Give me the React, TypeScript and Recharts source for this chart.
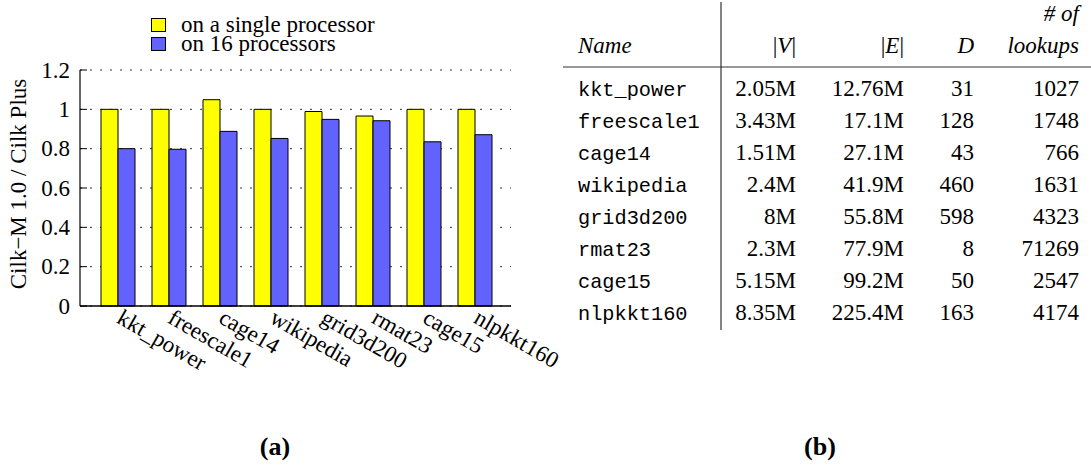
import React from "react";
import { BarChart, Bar, XAxis, YAxis, CartesianGrid, Legend } from "recharts";

// graphs, in the order they appear on the x axis
const graphs = [
  "kkt_power",
  "freescale1",
  "cage14",
  "wikipedia",
  "grid3d200",
  "rmat23",
  "cage15",
  "nlpkkt160",
];
const singleProcessor = [1.0, 1.0, 1.049, 1.0, 0.989, 0.966, 1.0, 1.0];
const sixteenProcessors = [0.8, 0.797, 0.888, 0.852, 0.949, 0.942, 0.835, 0.871];
const yTicks = [0, 0.2, 0.4, 0.6, 0.8, 1, 1.2];
const seriesOrder = ["single", "sixteen"];

// table (b)
const vertices = ["2.05M", "3.43M", "1.51M", "2.4M", "8M", "2.3M", "5.15M", "8.35M"];
const edges = ["12.76M", "17.1M", "27.1M", "41.9M", "55.8M", "77.9M", "99.2M", "225.4M"];
const diameters = ["31", "128", "43", "460", "598", "8", "50", "163"];
const lookups = ["1027", "1748", "766", "1631", "4323", "71269", "2547", "4174"];

const SERIF = "'Liberation Serif', 'Times New Roman', serif";
const MONO = "'Liberation Mono', 'Courier New', monospace";

const data = graphs.map((name, i) => ({
  name,
  single: singleProcessor[i],
  sixteen: sixteenProcessors[i],
}));

const YTick = (props: any) => {
  const { x, y, payload } = props;
  return (
    <g>
      <line x1={x + 10} x2={x + 17} y1={y} y2={y} stroke="#000" />
      <text x={x} y={y} dy="0.34em" textAnchor="end" fontSize={23} fontFamily={SERIF} fill="#000">
        {String(payload.value)}
      </text>
    </g>
  );
};

const XTick = (props: any) => {
  const { x, y, payload } = props;
  const tx = x - 2;
  const ty = y + 16;
  return (
    <text
      x={tx}
      y={ty}
      transform={`rotate(30, ${tx}, ${ty})`}
      textAnchor="start"
      fontSize={23}
      fontFamily={SERIF}
      fill="#000"
    >
      {payload.value}
    </text>
  );
};

const YLabel = (props: any) => {
  const vb = props.viewBox || { x: 0, y: 70, width: 80, height: 236 };
  const lx = vb.x + 26;
  const ly = vb.y + vb.height / 2 - 4;
  return (
    <text
      x={lx}
      y={ly}
      transform={`rotate(-90, ${lx}, ${ly})`}
      textAnchor="middle"
      fontSize={23}
      fontFamily={SERIF}
      fill="#000"
    >
      Cilk−M 1.0 / Cilk Plus
    </text>
  );
};

const LegendContent = (props: any) => {
  const items = [...(props.payload || [])].sort(
    (a: any, b: any) => seriesOrder.indexOf(a.dataKey) - seriesOrder.indexOf(b.dataKey)
  );
  return (
    <div style={{ fontFamily: SERIF, fontSize: 23, color: "#000" }}>
      {items.map((item: any) => (
        <div key={item.value} style={{ display: "flex", alignItems: "center", height: 19, lineHeight: "19px" }}>
          <span
            style={{
              display: "inline-block",
              width: 15,
              height: 14,
              boxSizing: "border-box",
              border: "1px solid #000",
              background: item.color,
              marginRight: 15,
            }}
          />
          <span style={{ whiteSpace: "nowrap" }}>{item.value}</span>
        </div>
      ))}
    </div>
  );
};

const TableB = () => {
  const firstRow = 95.5;
  const pitch = 32.1;
  const nameX = 18;
  const vRight = 236;
  const eRight = 344;
  const dRight = 414;
  const lRight = 519;
  const txt = { fontFamily: SERIF, fontSize: 23, fill: "#000" } as const;
  return (
    <svg width={531} height={340} style={{ position: "absolute", left: 560, top: 0 }}>
      <line x1={161} x2={161} y1={2} y2={330} stroke="#333" strokeWidth={1.2} />
      <line x1={3} x2={531} y1={67} y2={67} stroke="#333" strokeWidth={1.2} />
      <text x={nameX} y={52.5} {...txt} fontStyle="italic">Name</text>
      <text x={vRight} y={52.5} {...txt} textAnchor="end">
        |<tspan fontStyle="italic">V</tspan>|
      </text>
      <text x={eRight} y={52.5} {...txt} textAnchor="end">
        |<tspan fontStyle="italic">E</tspan>|
      </text>
      <text x={dRight} y={52.5} {...txt} textAnchor="end" fontStyle="italic">D</text>
      <text x={lRight} y={21} {...txt} textAnchor="end" fontStyle="italic"># of</text>
      <text x={lRight} y={52.5} {...txt} textAnchor="end" fontStyle="italic">lookups</text>
      {graphs.map((g, i) => {
        const y = firstRow + i * pitch;
        return (
          <g key={g}>
            <text x={nameX} y={y} fontFamily={MONO} fontSize={20.3} fill="#000">{g}</text>
            <text x={vRight} y={y} {...txt} textAnchor="end">{vertices[i]}</text>
            <text x={eRight} y={y} {...txt} textAnchor="end">{edges[i]}</text>
            <text x={dRight} y={y} {...txt} textAnchor="end">{diameters[i]}</text>
            <text x={lRight} y={y} {...txt} textAnchor="end">{lookups[i]}</text>
          </g>
        );
      })}
    </svg>
  );
};

export default function App() {
  return (
    <div style={{ position: "absolute", left: 0, top: 0, width: 1091, height: 465, background: "#fff", overflow: "hidden" }}>
      <div style={{ position: "absolute", left: 0, top: 0 }}>
        <BarChart
          width={580}
          height={400}
          data={data}
          margin={{ top: 70, right: 69, bottom: 34, left: 0 }}
          barCategoryGap={9}
          barGap={0}
        >
          <CartesianGrid vertical={false} stroke="#333" strokeDasharray="2 8" />
          <XAxis
            dataKey="name"
            height={60}
            padding={{ left: 12, right: 11 }}
            tickLine={false}
            tickSize={0}
            tickMargin={0}
            interval={0}
            tick={<XTick />}
            axisLine={{ stroke: "#000", strokeWidth: 1.6 }}
          />
          <YAxis
            width={80}
            domain={[0, 1.2]}
            ticks={yTicks}
            tickLine={false}
            tickSize={0}
            tickMargin={10}
            tick={<YTick />}
            axisLine={{ stroke: "#000", strokeWidth: 1.2 }}
            label={<YLabel />}
          />
          <Legend
            layout="vertical"
            align="center"
            verticalAlign="middle"
            wrapperStyle={{ left: 151, top: 15, width: "auto" }}
            content={<LegendContent />}
          />
          <Bar dataKey="single" name="on a single processor" fill="#ffff00" stroke="#000" strokeWidth={1} isAnimationActive={false} />
          <Bar dataKey="sixteen" name="on 16 processors" fill="#6262ff" stroke="#000" strokeWidth={1} isAnimationActive={false} />
        </BarChart>
      </div>
      <TableB />
      <div style={{ position: "absolute", left: 245, top: 432, width: 60, textAlign: "center", fontFamily: SERIF, fontWeight: "bold", fontSize: 26 }}>
        (a)
      </div>
      <div style={{ position: "absolute", left: 790, top: 432, width: 60, textAlign: "center", fontFamily: SERIF, fontWeight: "bold", fontSize: 26 }}>
        (b)
      </div>
    </div>
  );
}
